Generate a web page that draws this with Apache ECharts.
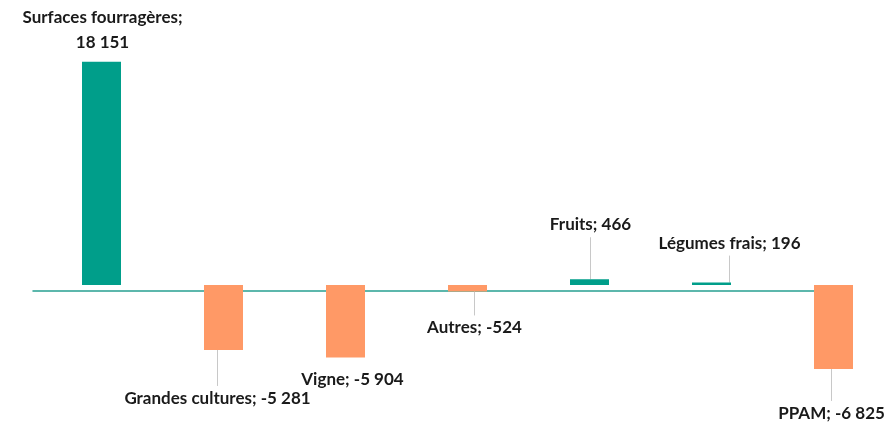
<!DOCTYPE html>
<html>
<head>
<meta charset="utf-8">
<script src="https://cdn.jsdelivr.net/npm/echarts@6/dist/echarts.min.js"></script>
<style>
  html, body { margin: 0; padding: 0; background: #fff; }
  #chart { width: 884px; height: 425px; }
</style>
</head>
<body>
<div id="chart"></div>
<script>
// données : variation des surfaces par type de culture
var categories = ['Surfaces fourragères', 'Grandes cultures', 'Vigne', 'Autres', 'Fruits', 'Légumes frais', 'PPAM'];
var values = [18151, -5281, -5904, -524, 466, 196, -6825];

// décalage des étiquettes (dx, dy) par rapport à la position par défaut
var labelShift = [[1, -2], [-6, 31], [7, 4], [7, 19], [1, -37], [18, -22], [-2, 27]];
var withLeader = [false, true, false, true, true, true, true];

var green = '#009e8a';
var orange = '#ff9966';

function fmt(v) {
  var s = String(Math.abs(v)).replace(/\B(?=(\d{3})+(?!\d))/g, ' ');
  return (v < 0 ? '-' : '') + s;
}

var chart = echarts.init(document.getElementById('chart'));

var option = {
  animation: false,
  grid: [
    { left: 40.5, width: 854, top: 39, bottom: 17, outerBoundsMode: 'none' },
    { left: 33, right: 32, top: 280, bottom: 134, outerBoundsMode: 'none' }
  ],
  xAxis: [
    {
      type: 'category',
      data: categories,
      gridIndex: 0,
      axisLine: { show: false },
      axisTick: { show: false },
      axisLabel: { show: false }
    },
    {
      type: 'category',
      data: [''],
      gridIndex: 1,
      axisLine: { show: true, onZero: false, lineStyle: { color: '#27a091', width: 1.5 } },
      axisTick: { show: false },
      axisLabel: { show: false }
    }
  ],
  yAxis: [
    { type: 'value', gridIndex: 0, min: -10000, max: 20000, show: false },
    { type: 'value', gridIndex: 1, min: 0, max: 1, show: false }
  ],
  series: [
    {
      type: 'bar',
      xAxisIndex: 0,
      yAxisIndex: 0,
      barWidth: 39,
      data: values.map(function (v, i) {
        return {
          value: v,
          itemStyle: { color: v >= 0 ? green : orange },
          label: {
            position: v >= 0 ? 'top' : 'bottom',
            formatter: i === 0
              ? categories[i] + ';\n' + fmt(v)
              : categories[i] + '; ' + fmt(v)
          },
          labelLine: { show: withLeader[i] }
        };
      }),
      label: {
        show: true,
        distance: 5,
        color: '#1a1a1a',
        fontFamily: 'Lato, sans-serif',
        fontWeight: 'bold',
        fontSize: 17,
        lineHeight: 25
      },
      labelLine: {
        show: true,
        lineStyle: { color: '#c8c8c8', width: 1 }
      },
      labelLayout: function (params) {
        var s = labelShift[params.dataIndex];
        return { dx: s[0], dy: s[1] };
      }
    }
  ]
};

chart.setOption(option);
</script>
</body>
</html>
